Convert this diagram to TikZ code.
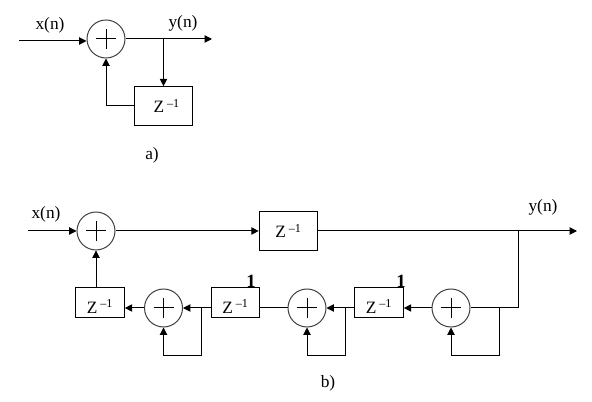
\documentclass[tikz,border=0pt]{standalone}
\usepackage{fontspec}
\setmainfont{Liberation Serif}
\usetikzlibrary{arrows.meta}
\newcommand{\zinv}{Z\,\textsuperscript{--1}}
\newcommand{\zlow}{\raisebox{-8pt}[0pt][0pt]{\zinv}}
\tikzset{
    sumnode/.style={circle, draw=black!75, minimum size=28.5pt, inner sep=0pt,
        path picture={\draw[black] (path picture bounding box.center) +(-7.5pt,0) -- +(7.5pt,0)
            (path picture bounding box.center) +(0,-7.5pt) -- +(0,7.5pt);}},
    delaybig/.style={draw, minimum width=44pt, minimum height=29pt, inner sep=0pt},
    delaysmall/.style={draw, minimum width=36.5pt, minimum height=22pt, inner sep=0pt},
    arrowline/.style={-{Triangle[length=5.5pt, width=5.5pt]}},
    label/.style={inner sep=0pt}
}

\begin{document}
\begin{tikzpicture}[x=0.75pt, y=-0.75pt, line width=0.75pt, font=\fontsize{13}{15}\selectfont]
        \useasboundingbox (0, 0) rectangle (592, 402);

        % a) first order loop
        \node[sumnode] (suma) at (106, 39) {};
        \node[delaybig] (zbox) at (163.5, 106) {\hspace{5pt}\zinv};
        \coordinate (xa) at (19, 41);
        \coordinate (ya) at (212, 39);
        \coordinate (taba) at (163.5, 39);
        \draw[arrowline] (xa) -- (suma.west |- xa);
        \draw[arrowline] (suma) -- (ya);
        \draw[arrowline] (taba) -- (zbox);
        \draw[arrowline] (zbox.west) -| (suma);
        \node[label] (xlaba) at (50, 25) {x(n)};
        \node[label] (ylaba) at (183, 23) {y(n)};
        \node[label] (capa) at (152, 155) {a)};

        % b) upper path
        \node[sumnode] (sumb) at (96, 231) {};
        \node[delaybig] (ztop) at (288.5, 231) {\zinv};
        \coordinate (xb) at (28, 231);
        \coordinate (yb) at (577, 231);
        \coordinate (tabb) at (518, 231);
        \draw[arrowline] (xb) -- (sumb);
        \draw[arrowline] (sumb) -- (ztop);
        \draw[arrowline] (ztop) -- (yb);
        \node[label] (xlabb) at (46, 214) {x(n)};
        \node[label] (ylabb) at (543, 207) {y(n)};

        % b) lower path, right to left
        \node[sumnode] (sumr) at (451, 308) {};
        \node[delaysmall] (zr) at (379, 302.5) {\zlow};
        \node[sumnode] (summ) at (307, 308) {};
        \node[delaysmall] (zm) at (235.5, 302.5) {\zlow};
        \node[sumnode] (suml) at (163.5, 308) {};
        \node[delaysmall] (zl) at (100, 302.5) {\zlow};
        \draw (tabb) |- (sumr);
        \draw[arrowline] (sumr) -- (zr.east |- sumr);
        \draw[arrowline] (zr.west |- summ) -- (summ);
        \draw (zm.east |- summ) -- (summ);
        \draw[arrowline] (zm.west |- suml) -- (suml);
        \draw[arrowline] (suml) -- (zl.east |- suml);
        \draw[arrowline] (zl.north -| sumb) -- (sumb);

        % b) loops under the adders
        \coordinate (tabr) at (499, 308);
        \coordinate (tabm) at (345, 308);
        \coordinate (tabl) at (201.5, 308);
        \draw[arrowline] (tabr) -- (499, 355) -| (sumr);
        \draw[arrowline] (tabm) -- (345, 355) -| (summ);
        \draw[arrowline] (tabl) -- (201.5, 355) -| (suml);

        \node[label, font=\fontsize{14}{16}\selectfont\bfseries] (onem) at (251, 281) {1};
        \node[label, font=\fontsize{14}{16}\selectfont\bfseries] (oner) at (401, 281) {1};
        \node[label] (capb) at (328, 383) {b)};
    \end{tikzpicture}
\end{document}
